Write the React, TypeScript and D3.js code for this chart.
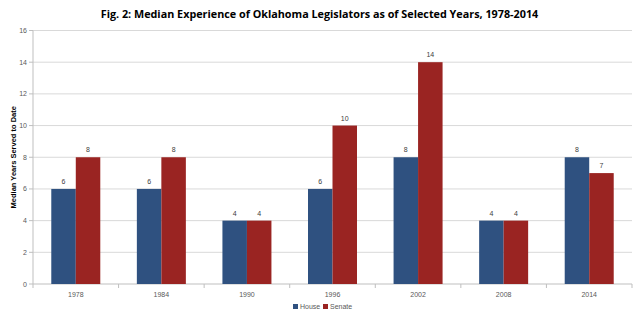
import React from "react";
import * as d3 from "d3";

const years = ["1978", "1984", "1990", "1996", "2002", "2008", "2014"];
const house = [6, 6, 4, 6, 8, 4, 8];
const senate = [8, 8, 4, 10, 14, 4, 7];
const yTicks = [0, 2, 4, 6, 8, 10, 12, 14, 16];
const seriesNames = ["House", "Senate"];
const colors = ["#2F5180", "#9A2422"];

export default function App() {
  const W = 640, H = 319;
  const left = 33, right = 632, top = 30.5, bottom = 284;
  const x = d3.scaleBand().domain(years).range([left, right]);
  const inner = d3.scaleBand().domain(seriesNames).range([0, 49]);
  const y = d3.scaleLinear().domain([0, 16]).range([bottom, top]);
  const font = "Liberation Sans, Arial, sans-serif";
  const bw = x.bandwidth();
  return (
    <svg width={W} height={H} style={{ position: "absolute", left: 0, top: 0, background: "#fff" }} fontFamily={font}>
      <text x={319.5} y={17.5} textAnchor="middle" fontSize={10.8} fontWeight="bold" fill="#000" fontFamily="Open Sans, sans-serif">
        Fig. 2: Median Experience of Oklahoma Legislators as of Selected Years, 1978-2014
      </text>
      {yTicks.map((t) => (
        <g key={t}>
          <line x1={left} x2={right} y1={y(t)} y2={y(t)} stroke={t === 0 ? "#BFBFBF" : "#D9D9D9"} strokeWidth={1} />
          <line x1={left - 4} x2={left} y1={y(t)} y2={y(t)} stroke="#BFBFBF" />
          <text x={left - 6} y={y(t) + 2.5} textAnchor="end" fontSize={7} fill="#595959">{t}</text>
        </g>
      ))}
      <line x1={left} x2={left} y1={top} y2={bottom} stroke="#BFBFBF" />
      {years.map((yr) => (
        <line key={"t" + yr} x1={x(yr)!} x2={x(yr)!} y1={bottom} y2={bottom + 4} stroke="#BFBFBF" />
      ))}
      <line x1={right} x2={right} y1={bottom} y2={bottom + 4} stroke="#BFBFBF" />
      <text transform={`translate(16,${(top + bottom) / 2}) rotate(-90)`} textAnchor="middle" fontSize={7.5} fontWeight="bold" fill="#000">
        Median Years Served to Date
      </text>
      {years.map((yr, i) => {
        const g0 = x(yr)! + bw / 2 - 24.5;
        const vals = [house[i], senate[i]];
        return (
          <g key={yr}>
            {vals.map((v, j) => (
              <g key={j}>
                <rect x={g0 + inner(seriesNames[j])!} y={y(v)} width={inner.bandwidth()} height={bottom - y(v)} fill={colors[j]} />
                <text x={g0 + inner(seriesNames[j])! + inner.bandwidth() / 2} y={y(v) - 5} textAnchor="middle" fontSize={7} fill="#404040">{v}</text>
              </g>
            ))}
            <text x={x(yr)! + bw / 2} y={bottom + 13} textAnchor="middle" fontSize={7} fill="#595959">{yr}</text>
          </g>
        );
      })}
      <g>
        <rect x={293} y={304} width={5} height={5} fill={colors[0]} />
        <text x={300} y={309} fontSize={7} fill="#595959">House</text>
        <rect x={323} y={304} width={5} height={5} fill={colors[1]} />
        <text x={330} y={309} fontSize={7} fill="#595959">Senate</text>
      </g>
    </svg>
  );
}
